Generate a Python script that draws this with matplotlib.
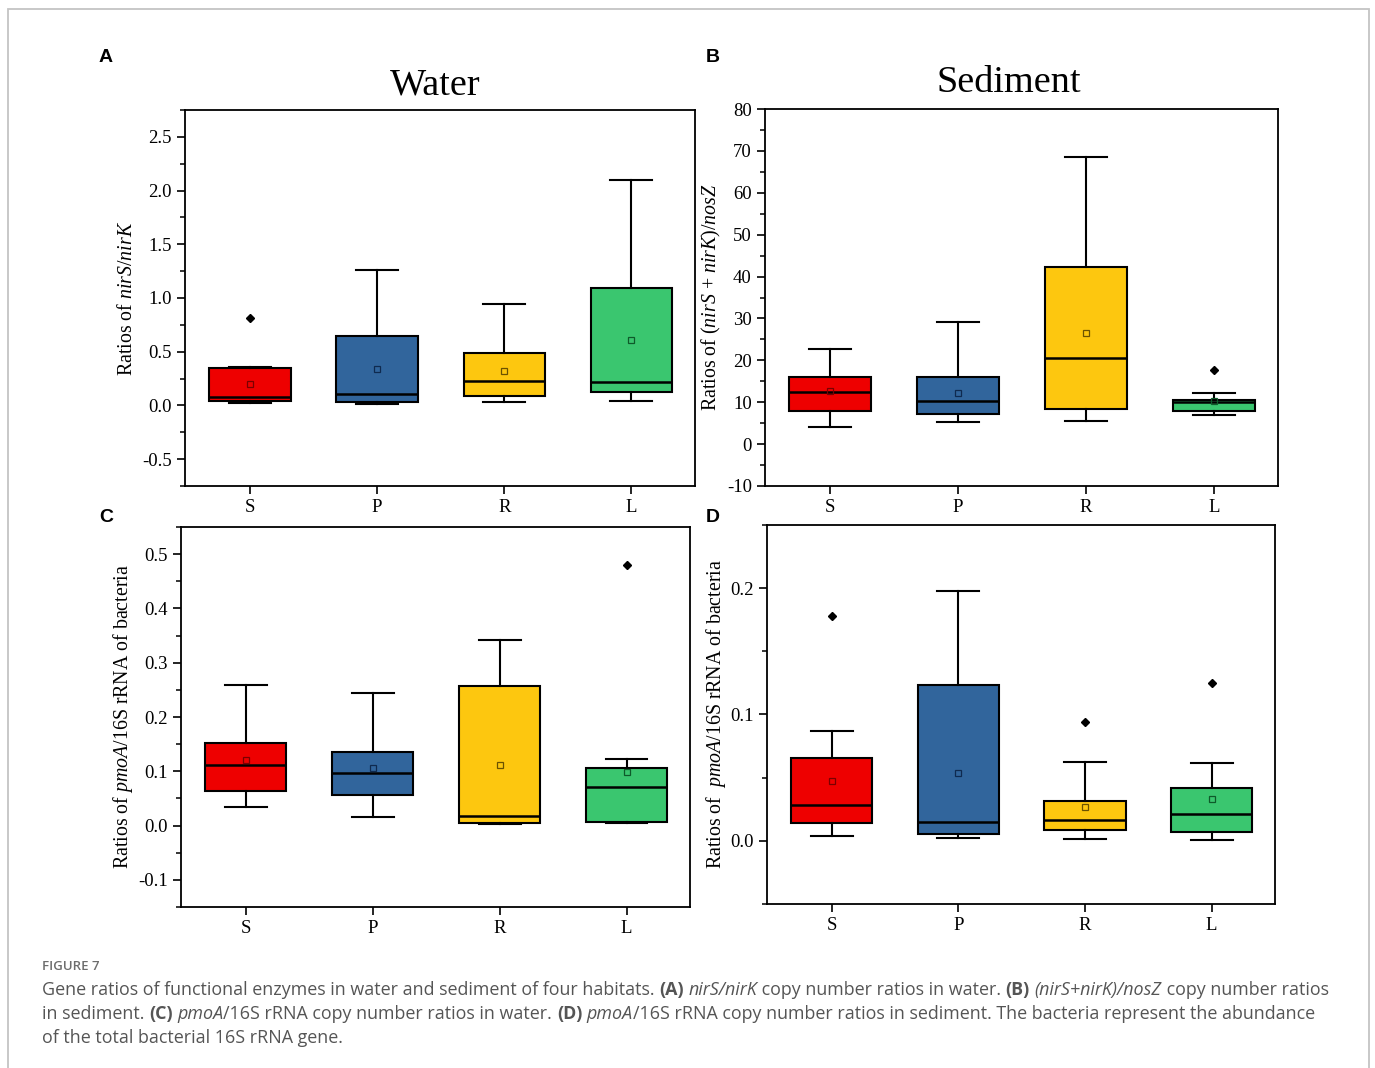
import matplotlib
matplotlib.use("Agg")
import matplotlib.pyplot as plt
from matplotlib.ticker import MultipleLocator, FormatStrFormatter
from matplotlib.patches import Rectangle
from matplotlib.font_manager import FontProperties

# ---------------- data ----------------
categories = ["S", "P", "R", "L"]

# Panel A: nirS/nirK in water
a_whislo = [0.025, 0.012, 0.031, 0.037]
a_q1     = [0.037, 0.031, 0.087, 0.127]
a_med    = [0.074, 0.110, 0.229, 0.214]
a_q3     = [0.344, 0.647, 0.486, 1.097]
a_whishi = [0.362, 1.264, 0.942, 2.100]
a_mean   = [0.195, 0.338, 0.319, 0.607]
a_fliers = [[0.81], [], [], []]

# Panel B: (nirS+nirK)/nosZ in sediment
b_whislo = [4.2, 5.3, 5.5, 6.9]
b_q1     = [8.0, 7.1, 8.3, 7.8]
b_med    = [12.5, 10.2, 20.5, 10.0]
b_q3     = [16.0, 16.0, 42.2, 10.6]
b_whishi = [22.8, 29.1, 68.6, 12.1]
b_mean   = [12.7, 12.2, 26.5, 10.2]
b_fliers = [[], [], [], [17.8]]

# Panel C: pmoA/16S rRNA in water
c_whislo = [0.034, 0.015, 0.002, 0.005]
c_q1     = [0.063, 0.057, 0.004, 0.007]
c_med    = [0.112, 0.096, 0.018, 0.071]
c_q3     = [0.152, 0.135, 0.257, 0.106]
c_whishi = [0.259, 0.244, 0.342, 0.122]
c_mean   = [0.120, 0.106, 0.111, 0.098]
c_fliers = [[], [], [], [0.480]]

# Panel D: pmoA/16S rRNA in sediment
d_whislo = [0.004, 0.0024, 0.0013, 0.001]
d_q1     = [0.014, 0.0058, 0.0084, 0.0069]
d_med    = [0.0285, 0.0148, 0.0164, 0.0211]
d_q3     = [0.0652, 0.123, 0.0319, 0.042]
d_whishi = [0.0871, 0.198, 0.0623, 0.0617]
d_mean   = [0.0475, 0.0536, 0.0269, 0.0332]
d_fliers = [[0.178], [], [0.0939], [0.1248]]

box_colors  = ["#EE0000", "#31659C", "#FDC70F", "#3AC66F"]
mean_colors = ["#7A0000", "#0F2A4F", "#6B5200", "#0E5A2A"]

# ---------------- style ----------------
plt.rcParams["font.family"] = ["Liberation Serif", "DejaVu Serif"]
plt.rcParams["mathtext.fontset"] = "custom"
plt.rcParams["mathtext.rm"] = "Liberation Serif"
plt.rcParams["mathtext.it"] = "Liberation Serif:italic"
plt.rcParams["axes.unicode_minus"] = False

W, H = 1375, 1068
fig = plt.figure(figsize=(W / 100, H / 100), dpi=100)


def add_axes_px(left, right, top, bottom):
    return fig.add_axes([left / W, 1 - bottom / H, (right - left) / W, (bottom - top) / H])


def draw_panel(ax, whislo, q1, med, q3, whishi, mean, fliers, ylim, major, minor, fmt, ylabel, label_x):
    stats = []
    for i, name in enumerate(categories):
        stats.append(dict(label=name, whislo=whislo[i], q1=q1[i], med=med[i], q3=q3[i],
                          whishi=whishi[i], mean=mean[i], fliers=fliers[i]))
    res = ax.bxp(stats, positions=[1, 2, 3, 4], widths=0.64, capwidths=0.33,
                 patch_artist=True, showmeans=True,
                 boxprops=dict(edgecolor="black", linewidth=1.5),
                 whiskerprops=dict(color="black", linewidth=1.5),
                 capprops=dict(color="black", linewidth=1.5),
                 medianprops=dict(color="black", linewidth=1.8),
                 meanprops=dict(marker="s", markersize=4.5, markerfacecolor="none",
                                markeredgewidth=0.9),
                 flierprops=dict(marker="D", markersize=4.5, markerfacecolor="black",
                                 markeredgecolor="black"))
    for patch, c in zip(res["boxes"], box_colors):
        patch.set_facecolor(c)
    for m, c in zip(res["means"], mean_colors):
        m.set_markeredgecolor(c)
    ax.set_xlim(0.49, 4.5)
    ax.set_ylim(*ylim)
    ax.yaxis.set_major_locator(MultipleLocator(major))
    ax.yaxis.set_minor_locator(MultipleLocator(minor))
    ax.yaxis.set_major_formatter(FormatStrFormatter(fmt))
    ax.tick_params(axis="both", which="major", direction="out", length=6, width=1.2,
                   labelsize=13.5, top=False, right=False)
    ax.tick_params(axis="y", which="minor", direction="out", length=3.5, width=1.1,
                   right=False)
    ax.tick_params(axis="x", which="minor", bottom=False, top=False)
    for s in ax.spines.values():
        s.set_linewidth(1.3)
    ax.set_ylabel(ylabel, fontsize=14.3, va="center")
    ax.yaxis.set_label_coords(label_x, 0.5)


# Panel A
axA = add_axes_px(185, 695, 110, 486)
draw_panel(axA, a_whislo, a_q1, a_med, a_q3, a_whishi, a_mean, a_fliers,
           (-0.75, 2.75), 0.5, 0.25, "%.1f",
           r"Ratios of $\mathit{nirS}$/$\mathit{nirK}$", (127 - 185) / 510)

# Panel B
axB = add_axes_px(765, 1278, 109, 486)
draw_panel(axB, b_whislo, b_q1, b_med, b_q3, b_whishi, b_mean, b_fliers,
           (-10, 80), 10, 5, "%d",
           r"Ratios of ($\mathit{nirS}$ + $\mathit{nirK}$)/$\mathit{nosZ}$", (711 - 765) / 513)

# Panel C
axC = add_axes_px(181, 690, 527, 907)
draw_panel(axC, c_whislo, c_q1, c_med, c_q3, c_whishi, c_mean, c_fliers,
           (-0.15, 0.55), 0.1, 0.05, "%.1f",
           r"Ratios of $\mathit{pmoA}$/16S rRNA of bacteria", (123 - 181) / 509)

# Panel D
axD = add_axes_px(767, 1275, 525, 904)
draw_panel(axD, d_whislo, d_q1, d_med, d_q3, d_whishi, d_mean, d_fliers,
           (-0.05, 0.25), 0.1, 0.05, "%.1f",
           r"Ratios of  $\mathit{pmoA}$/16S rRNA of bacteria", (716 - 767) / 508)

# Titles
fig.text(435 / W, 1 - 85 / H, "Water", ha="center", va="center", fontsize=27.5)
fig.text(1009 / W, 1 - 83 / H, "Sediment", ha="center", va="center", fontsize=27.5)

# Panel letters
for letter, (x, y) in zip("ABCD", [(106, 58), (713, 58), (106, 517), (713, 517)]):
    fig.text(x / W, 1 - y / H, letter, ha="center", va="center", fontsize=14,
             fontweight="bold", family="Liberation Sans")

# Outer frame
fig.add_artist(Rectangle((8 / W, -0.02), (1369 - 8) / W, 0.02 + 1 - 9 / H,
                         transform=fig.transFigure, fill=False,
                         edgecolor="#c4c4c4", linewidth=1.3, clip_on=False))

# Caption
fig.text(42 / W, 1 - 967 / H, "FIGURE 7", ha="left", va="center", fontsize=9.5,
         family="Open Sans", fontweight="semibold", color="#6d6d6d")

cap_lines = [
    [("Gene ratios of functional enzymes in water and sediment of four habitats. ", "normal", "normal"),
     ("(A)", "normal", "bold"), (" ", "normal", "normal"), ("nirS/nirK", "italic", "normal"),
     (" copy number ratios in water. ", "normal", "normal"), ("(B)", "normal", "bold"),
     (" ", "normal", "normal"), ("(nirS+nirK)/nosZ", "italic", "normal"),
     (" copy number ratios", "normal", "normal")],
    [("in sediment. ", "normal", "normal"), ("(C)", "normal", "bold"), (" ", "normal", "normal"),
     ("pmoA", "italic", "normal"), ("/16S rRNA copy number ratios in water. ", "normal", "normal"),
     ("(D)", "normal", "bold"), (" ", "normal", "normal"), ("pmoA", "italic", "normal"),
     ("/16S rRNA copy number ratios in sediment. The bacteria represent the abundance", "normal", "normal")],
    [("of the total bacterial 16S rRNA gene.", "normal", "normal")],
]
cap_y = [990, 1014, 1038]

renderer = fig.canvas.get_renderer()


def seg_width(s, style, weight, size):
    fp = FontProperties(family="Open Sans", style=style, weight=weight, size=size)
    w1, _, _ = renderer.get_text_width_height_descent("|" + s + "|", fp, ismath=False)
    w0, _, _ = renderer.get_text_width_height_descent("||", fp, ismath=False)
    return w1 - w0


base = 10.0
total = sum(seg_width(s, st, wt, base) for s, st, wt in cap_lines[0])
cap_size = base * 1293 / total

for line, y in zip(cap_lines, cap_y):
    x = 42.0
    for s, st, wt in line:
        fig.text(x / W, 1 - y / H, s, ha="left", va="center", fontsize=cap_size,
                 family="Open Sans", style=st, weight=wt, color="#555555")
        x += seg_width(s, st, wt, cap_size)

fig.savefig("out.png", dpi=100)
